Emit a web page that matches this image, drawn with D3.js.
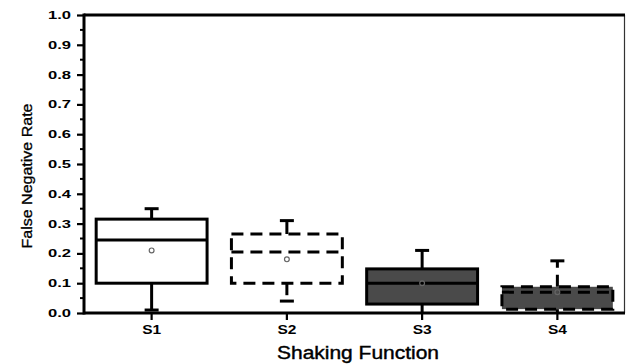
<!DOCTYPE html>
<html>
<head>
<meta charset="utf-8">
<script src="https://cdn.jsdelivr.net/npm/d3@7"></script>
<style>
  html, body { margin: 0; padding: 0; background: #fff; }
  body { overflow: hidden; }
  text { font-family: Arial, "Liberation Sans", sans-serif; }
</style>
</head>
<body>
<script>
// the data - box statistics per shaking function
const categories = ["S1", "S2", "S3", "S4"];
const whiskerLow = [0.01, 0.04, 0.0, 0.0];
const q1 = [0.10, 0.10, 0.03, 0.013];
const median = [0.245, 0.205, 0.10, 0.07];
const q3 = [0.315, 0.265, 0.148, 0.088];
const whiskerHigh = [0.35, 0.31, 0.21, 0.175];
const mean = [0.21, 0.18, 0.10, 0.07];
const yTicks = [0, 0.1, 0.2, 0.3, 0.4, 0.5, 0.6, 0.7, 0.8, 0.9, 1.0];

// look of each box
const boxFill = {S1: "#fff", S2: "#fff", S3: "#4a4a4a", S4: "#4a4a4a"};
const boxDash = {S1: null, S2: "12,7", S3: null, S4: "12,7"};

// Set the dimensions of the diagram
const width = 626, height = 364;
const margin = {top: 15, right: 1, bottom: 51, left: 84};

const svg = d3.select("body")
    .append("svg")
    .attr("width", width)
    .attr("height", height);

const x = d3.scaleBand()
    .domain(categories)
    .range([margin.left, width - margin.right])
    .paddingInner(0)
    .paddingOuter(0);

const y = d3.scaleLinear()
    .domain([0, 1])
    .range([height - margin.bottom, margin.top]);

const boxW = x.bandwidth() * 0.82;
const capW = 14;

const rows = categories.map((c, i) => ({
    cat: c, lo: whiskerLow[i], q1: q1[i], med: median[i],
    q3: q3[i], hi: whiskerHigh[i], mean: mean[i]
}));

//////////// BOXES ////////////

const g = svg.append("g")
    .attr("stroke", "#000")
    .attr("stroke-width", 3);

const box = g.selectAll("g.box")
    .data(rows)
    .join("g")
    .attr("class", "box")
    .attr("transform", d => `translate(${x(d.cat) + x.bandwidth() / 2},0)`);

// whiskers
box.append("line")
    .attr("x1", 0).attr("x2", 0)
    .attr("y1", d => y(d.q3)).attr("y2", d => y(d.hi))
    .attr("stroke-dasharray", d => boxDash[d.cat]);
box.append("line")
    .attr("x1", 0).attr("x2", 0)
    .attr("y1", d => y(d.q1)).attr("y2", d => y(d.lo))
    .attr("stroke-dasharray", d => boxDash[d.cat]);

// caps
box.append("line")
    .attr("x1", -capW / 2).attr("x2", capW / 2)
    .attr("y1", d => y(d.hi)).attr("y2", d => y(d.hi));
box.filter(d => d.lo > 0).append("line")
    .attr("x1", -capW / 2).attr("x2", capW / 2)
    .attr("y1", d => y(d.lo)).attr("y2", d => y(d.lo));

// box body
box.append("rect")
    .attr("x", -boxW / 2)
    .attr("width", boxW)
    .attr("y", d => y(d.q3))
    .attr("height", d => y(d.q1) - y(d.q3))
    .attr("fill", d => boxFill[d.cat])
    .attr("stroke-dasharray", d => boxDash[d.cat]);

// median
box.append("line")
    .attr("x1", -boxW / 2).attr("x2", boxW / 2)
    .attr("y1", d => y(d.med)).attr("y2", d => y(d.med))
    .attr("stroke-dasharray", d => boxDash[d.cat]);

// mean marker
box.append("circle")
    .attr("cx", 0)
    .attr("cy", d => y(d.mean))
    .attr("r", 2.4)
    .attr("fill", "none")
    .attr("stroke", "#666")
    .attr("stroke-width", 1.2);

//////////// AXES ////////////

const x0 = margin.left, x1 = width - margin.right;
const y0 = height - margin.bottom, y1 = margin.top;

// frame: thick left/bottom/top, thin right
svg.append("line").attr("x1", x1 - 0.5).attr("x2", x1 - 0.5).attr("y1", y1).attr("y2", y0)
    .attr("stroke", "#333").attr("stroke-width", 1.2);
svg.append("line").attr("x1", x0).attr("x2", x1).attr("y1", y1).attr("y2", y1)
    .attr("stroke", "#000").attr("stroke-width", 3);

const yAxis = svg.append("g")
    .attr("transform", `translate(${x0},0)`)
    .call(d3.axisLeft(y).tickValues(yTicks).tickFormat(d3.format(".1f"))
        .tickSize(7).tickPadding(6));
yAxis.select(".domain").remove();
yAxis.selectAll(".tick line").attr("stroke", "#000").attr("stroke-width", 2.2);
yAxis.selectAll(".tick text")
    .attr("fill", "#000")
    .attr("font-size", 11)
    .attr("font-weight", "bold")
    .attr("textLength", 23)
    .attr("lengthAdjust", "spacingAndGlyphs");

// minor ticks
svg.append("g")
    .selectAll("line")
    .data(d3.range(0.05, 1, 0.1))
    .join("line")
    .attr("x1", x0 - 4).attr("x2", x0)
    .attr("y1", d => y(d)).attr("y2", d => y(d))
    .attr("stroke", "#000").attr("stroke-width", 2);

svg.append("line").attr("x1", x0).attr("x2", x0).attr("y1", y1 - 1.5).attr("y2", y0 + 1.5)
    .attr("stroke", "#000").attr("stroke-width", 3);

const xAxis = svg.append("g")
    .attr("transform", `translate(0,${y0})`)
    .call(d3.axisBottom(x).tickSize(7).tickPadding(5));
xAxis.select(".domain").remove();
xAxis.selectAll(".tick line").attr("stroke", "#000").attr("stroke-width", 2.2);
xAxis.selectAll(".tick text")
    .attr("fill", "#000")
    .attr("font-size", 13)
    .attr("font-weight", "bold")
    .attr("textLength", 19)
    .attr("lengthAdjust", "spacingAndGlyphs");

svg.append("line").attr("x1", x0).attr("x2", x1).attr("y1", y0).attr("y2", y0)
    .attr("stroke", "#000").attr("stroke-width", 3);

// axis titles
svg.append("text")
    .attr("x", 358)
    .attr("y", 359)
    .attr("text-anchor", "middle")
    .attr("font-size", 18)
    .attr("stroke", "#000")
    .attr("stroke-width", 0.4)
    .attr("textLength", 162)
    .attr("lengthAdjust", "spacingAndGlyphs")
    .text("Shaking Function");

svg.append("text")
    .attr("transform", `translate(32,176) rotate(-90)`)
    .attr("text-anchor", "middle")
    .attr("font-size", 14)
    .attr("stroke", "#000")
    .attr("stroke-width", 0.3)
    .attr("textLength", 145)
    .attr("lengthAdjust", "spacingAndGlyphs")
    .text("False Negative Rate");
</script>
</body>
</html>
